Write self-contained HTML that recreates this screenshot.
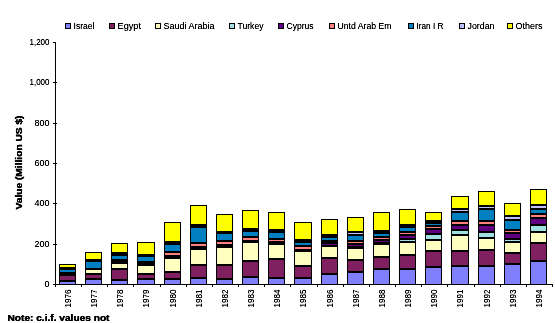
<!DOCTYPE html>
<html><head><meta charset="utf-8"><style>
html,body{margin:0;padding:0;background:#fff;width:555px;height:323px;overflow:hidden}
svg{display:block}
.t{font-family:"Liberation Sans",sans-serif;font-size:8.5px;fill:#000}
.b{font-family:"Liberation Sans",sans-serif;font-size:9px;font-weight:bold;fill:#000;stroke:#000;stroke-width:0.2px}
</style></head><body>
<svg width="555" height="323" viewBox="0 0 555 323">
<defs><filter id="crisp" filterUnits="userSpaceOnUse" x="0" y="0" width="555" height="323"><feComponentTransfer><feFuncA type="linear" slope="1.35" intercept="0"/></feComponentTransfer></filter></defs>
<rect x="0" y="0" width="555" height="323" fill="#fff"/>
<g shape-rendering="crispEdges">
<rect x="59" y="264" width="17" height="21" fill="#000000"/>
<rect x="60" y="265" width="15" height="2" fill="#FFFF00"/>
<rect x="60" y="270" width="15" height="2" fill="#0080C0"/>
<rect x="60" y="276" width="15" height="4" fill="#802060"/>
<rect x="60" y="282" width="15" height="2" fill="#8080FF"/>
<rect x="85" y="252" width="17" height="33" fill="#000000"/>
<rect x="86" y="253" width="15" height="6" fill="#FFFF00"/>
<rect x="86" y="262" width="15" height="6" fill="#0080C0"/>
<rect x="86" y="270" width="15" height="3" fill="#FFFFC0"/>
<rect x="86" y="275" width="15" height="3" fill="#802060"/>
<rect x="86" y="280" width="15" height="4" fill="#8080FF"/>
<rect x="111" y="243" width="17" height="42" fill="#000000"/>
<rect x="112" y="244" width="15" height="8" fill="#FFFF00"/>
<rect x="112" y="256" width="15" height="3" fill="#0080C0"/>
<rect x="112" y="264" width="15" height="4" fill="#FFFFC0"/>
<rect x="112" y="270" width="15" height="9" fill="#802060"/>
<rect x="112" y="281" width="15" height="3" fill="#8080FF"/>
<rect x="137" y="242" width="18" height="43" fill="#000000"/>
<rect x="138" y="243" width="16" height="11" fill="#FFFF00"/>
<rect x="138" y="257" width="16" height="4" fill="#0080C0"/>
<rect x="138" y="266" width="16" height="7" fill="#FFFFC0"/>
<rect x="138" y="275" width="16" height="3" fill="#802060"/>
<rect x="138" y="280" width="16" height="4" fill="#8080FF"/>
<rect x="164" y="222" width="17" height="63" fill="#000000"/>
<rect x="165" y="223" width="15" height="18" fill="#FFFF00"/>
<rect x="165" y="245" width="15" height="6" fill="#0080C0"/>
<rect x="165" y="253" width="15" height="2" fill="#FF8080"/>
<rect x="165" y="259" width="15" height="12" fill="#FFFFC0"/>
<rect x="165" y="273" width="15" height="5" fill="#802060"/>
<rect x="165" y="280" width="15" height="4" fill="#8080FF"/>
<rect x="190" y="205" width="17" height="80" fill="#000000"/>
<rect x="191" y="206" width="15" height="18" fill="#FFFF00"/>
<rect x="191" y="228" width="15" height="14" fill="#0080C0"/>
<rect x="191" y="244" width="15" height="2" fill="#FF8080"/>
<rect x="191" y="250" width="15" height="14" fill="#FFFFC0"/>
<rect x="191" y="266" width="15" height="11" fill="#802060"/>
<rect x="191" y="279" width="15" height="5" fill="#8080FF"/>
<rect x="216" y="214" width="17" height="71" fill="#000000"/>
<rect x="217" y="215" width="15" height="16" fill="#FFFF00"/>
<rect x="217" y="234" width="15" height="6" fill="#0080C0"/>
<rect x="217" y="242" width="15" height="2" fill="#FF8080"/>
<rect x="217" y="248" width="15" height="16" fill="#FFFFC0"/>
<rect x="217" y="266" width="15" height="12" fill="#802060"/>
<rect x="217" y="280" width="15" height="4" fill="#8080FF"/>
<rect x="242" y="210" width="17" height="75" fill="#000000"/>
<rect x="243" y="211" width="15" height="17" fill="#FFFF00"/>
<rect x="243" y="232" width="15" height="4" fill="#0080C0"/>
<rect x="243" y="238" width="15" height="2" fill="#FF8080"/>
<rect x="243" y="243" width="15" height="17" fill="#FFFFC0"/>
<rect x="243" y="262" width="15" height="14" fill="#802060"/>
<rect x="243" y="278" width="15" height="6" fill="#8080FF"/>
<rect x="268" y="212" width="17" height="73" fill="#000000"/>
<rect x="269" y="213" width="15" height="16" fill="#FFFF00"/>
<rect x="269" y="233" width="15" height="5" fill="#0080C0"/>
<rect x="269" y="240" width="15" height="1" fill="#FF8080"/>
<rect x="269" y="245" width="15" height="13" fill="#FFFFC0"/>
<rect x="269" y="260" width="15" height="17" fill="#802060"/>
<rect x="269" y="279" width="15" height="5" fill="#8080FF"/>
<rect x="294" y="222" width="18" height="63" fill="#000000"/>
<rect x="295" y="223" width="16" height="16" fill="#FFFF00"/>
<rect x="295" y="243" width="16" height="2" fill="#0080C0"/>
<rect x="295" y="247" width="16" height="2" fill="#FF8080"/>
<rect x="295" y="252" width="16" height="13" fill="#FFFFC0"/>
<rect x="295" y="267" width="16" height="10" fill="#802060"/>
<rect x="295" y="279" width="16" height="5" fill="#8080FF"/>
<rect x="321" y="219" width="17" height="66" fill="#000000"/>
<rect x="322" y="220" width="15" height="14" fill="#FFFF00"/>
<rect x="322" y="238" width="15" height="2" fill="#0080C0"/>
<rect x="322" y="244" width="15" height="1" fill="#600080"/>
<rect x="322" y="247" width="15" height="10" fill="#FFFFC0"/>
<rect x="322" y="259" width="15" height="14" fill="#802060"/>
<rect x="322" y="275" width="15" height="9" fill="#8080FF"/>
<rect x="347" y="217" width="17" height="68" fill="#000000"/>
<rect x="348" y="218" width="15" height="13" fill="#FFFF00"/>
<rect x="348" y="233" width="15" height="1" fill="#C0C0FF"/>
<rect x="348" y="236" width="15" height="4" fill="#0080C0"/>
<rect x="348" y="242" width="15" height="1" fill="#FF8080"/>
<rect x="348" y="245" width="15" height="1" fill="#600080"/>
<rect x="348" y="249" width="15" height="10" fill="#FFFFC0"/>
<rect x="348" y="261" width="15" height="10" fill="#802060"/>
<rect x="348" y="273" width="15" height="11" fill="#8080FF"/>
<rect x="373" y="212" width="17" height="73" fill="#000000"/>
<rect x="374" y="213" width="15" height="17" fill="#FFFF00"/>
<rect x="374" y="234" width="15" height="2" fill="#0080C0"/>
<rect x="374" y="238" width="15" height="1" fill="#FF8080"/>
<rect x="374" y="241" width="15" height="1" fill="#600080"/>
<rect x="374" y="245" width="15" height="11" fill="#FFFFC0"/>
<rect x="374" y="258" width="15" height="10" fill="#802060"/>
<rect x="374" y="270" width="15" height="14" fill="#8080FF"/>
<rect x="399" y="209" width="17" height="76" fill="#000000"/>
<rect x="400" y="210" width="15" height="14" fill="#FFFF00"/>
<rect x="400" y="228" width="15" height="3" fill="#0080C0"/>
<rect x="400" y="233" width="15" height="1" fill="#FF8080"/>
<rect x="400" y="236" width="15" height="2" fill="#600080"/>
<rect x="400" y="240" width="15" height="1" fill="#A0E0E0"/>
<rect x="400" y="243" width="15" height="11" fill="#FFFFC0"/>
<rect x="400" y="256" width="15" height="12" fill="#802060"/>
<rect x="400" y="270" width="15" height="14" fill="#8080FF"/>
<rect x="425" y="212" width="17" height="73" fill="#000000"/>
<rect x="426" y="213" width="15" height="7" fill="#FFFF00"/>
<rect x="426" y="224" width="15" height="1" fill="#0080C0"/>
<rect x="426" y="227" width="15" height="1" fill="#FF8080"/>
<rect x="426" y="230" width="15" height="3" fill="#600080"/>
<rect x="426" y="235" width="15" height="4" fill="#A0E0E0"/>
<rect x="426" y="241" width="15" height="9" fill="#FFFFC0"/>
<rect x="426" y="252" width="15" height="14" fill="#802060"/>
<rect x="426" y="268" width="15" height="16" fill="#8080FF"/>
<rect x="451" y="196" width="18" height="89" fill="#000000"/>
<rect x="452" y="197" width="16" height="11" fill="#FFFF00"/>
<rect x="452" y="210" width="16" height="1" fill="#C0C0FF"/>
<rect x="452" y="213" width="16" height="7" fill="#0080C0"/>
<rect x="452" y="222" width="16" height="2" fill="#FF8080"/>
<rect x="452" y="226" width="16" height="3" fill="#600080"/>
<rect x="452" y="231" width="16" height="3" fill="#A0E0E0"/>
<rect x="452" y="236" width="16" height="14" fill="#FFFFC0"/>
<rect x="452" y="252" width="16" height="13" fill="#802060"/>
<rect x="452" y="267" width="16" height="17" fill="#8080FF"/>
<rect x="478" y="191" width="17" height="94" fill="#000000"/>
<rect x="479" y="192" width="15" height="13" fill="#FFFF00"/>
<rect x="479" y="207" width="15" height="1" fill="#C0C0FF"/>
<rect x="479" y="210" width="15" height="10" fill="#0080C0"/>
<rect x="479" y="222" width="15" height="2" fill="#FF8080"/>
<rect x="479" y="226" width="15" height="5" fill="#600080"/>
<rect x="479" y="233" width="15" height="4" fill="#A0E0E0"/>
<rect x="479" y="239" width="15" height="10" fill="#FFFFC0"/>
<rect x="479" y="251" width="15" height="14" fill="#802060"/>
<rect x="479" y="267" width="15" height="17" fill="#8080FF"/>
<rect x="504" y="203" width="17" height="82" fill="#000000"/>
<rect x="505" y="204" width="15" height="11" fill="#FFFF00"/>
<rect x="505" y="217" width="15" height="2" fill="#C0C0FF"/>
<rect x="505" y="221" width="15" height="8" fill="#0080C0"/>
<rect x="505" y="231" width="15" height="1" fill="#FF8080"/>
<rect x="505" y="234" width="15" height="4" fill="#600080"/>
<rect x="505" y="240" width="15" height="1" fill="#A0E0E0"/>
<rect x="505" y="243" width="15" height="9" fill="#FFFFC0"/>
<rect x="505" y="254" width="15" height="9" fill="#802060"/>
<rect x="505" y="265" width="15" height="19" fill="#8080FF"/>
<rect x="530" y="189" width="17" height="96" fill="#000000"/>
<rect x="531" y="190" width="15" height="14" fill="#FFFF00"/>
<rect x="531" y="206" width="15" height="2" fill="#C0C0FF"/>
<rect x="531" y="210" width="15" height="3" fill="#0080C0"/>
<rect x="531" y="215" width="15" height="2" fill="#FF8080"/>
<rect x="531" y="219" width="15" height="5" fill="#600080"/>
<rect x="531" y="226" width="15" height="5" fill="#A0E0E0"/>
<rect x="531" y="233" width="15" height="9" fill="#FFFFC0"/>
<rect x="531" y="244" width="15" height="16" fill="#802060"/>
<rect x="531" y="262" width="15" height="22" fill="#8080FF"/>
<rect x="55" y="42" width="1" height="243" fill="#000000"/>
<rect x="53" y="42" width="3" height="1" fill="#000000"/>
<rect x="53" y="82" width="4" height="1" fill="#000000"/>
<rect x="53" y="123" width="4" height="1" fill="#000000"/>
<rect x="53" y="163" width="4" height="1" fill="#000000"/>
<rect x="53" y="203" width="4" height="1" fill="#000000"/>
<rect x="53" y="244" width="4" height="1" fill="#000000"/>
<rect x="53" y="284" width="500" height="1" fill="#000000"/>
<rect x="55" y="285" width="1" height="2" fill="#000000"/>
<rect x="81" y="285" width="1" height="2" fill="#000000"/>
<rect x="107" y="285" width="1" height="2" fill="#000000"/>
<rect x="133" y="285" width="1" height="2" fill="#000000"/>
<rect x="160" y="285" width="1" height="2" fill="#000000"/>
<rect x="186" y="285" width="1" height="2" fill="#000000"/>
<rect x="212" y="285" width="1" height="2" fill="#000000"/>
<rect x="238" y="285" width="1" height="2" fill="#000000"/>
<rect x="264" y="285" width="1" height="2" fill="#000000"/>
<rect x="290" y="285" width="1" height="2" fill="#000000"/>
<rect x="317" y="285" width="1" height="2" fill="#000000"/>
<rect x="343" y="285" width="1" height="2" fill="#000000"/>
<rect x="369" y="285" width="1" height="2" fill="#000000"/>
<rect x="395" y="285" width="1" height="2" fill="#000000"/>
<rect x="421" y="285" width="1" height="2" fill="#000000"/>
<rect x="447" y="285" width="1" height="2" fill="#000000"/>
<rect x="474" y="285" width="1" height="2" fill="#000000"/>
<rect x="500" y="285" width="1" height="2" fill="#000000"/>
<rect x="526" y="285" width="1" height="2" fill="#000000"/>
<rect x="552" y="285" width="1" height="2" fill="#000000"/>
<rect x="65" y="23" width="6" height="6" fill="#000000"/>
<rect x="66" y="24" width="4" height="4" fill="#8080FF"/>
<rect x="109" y="23" width="6" height="6" fill="#000000"/>
<rect x="110" y="24" width="4" height="4" fill="#802060"/>
<rect x="155" y="23" width="6" height="6" fill="#000000"/>
<rect x="156" y="24" width="4" height="4" fill="#FFFFC0"/>
<rect x="229" y="23" width="6" height="6" fill="#000000"/>
<rect x="230" y="24" width="4" height="4" fill="#A0E0E0"/>
<rect x="278" y="23" width="6" height="6" fill="#000000"/>
<rect x="279" y="24" width="4" height="4" fill="#600080"/>
<rect x="329" y="23" width="6" height="6" fill="#000000"/>
<rect x="330" y="24" width="4" height="4" fill="#FF8080"/>
<rect x="408" y="23" width="6" height="6" fill="#000000"/>
<rect x="409" y="24" width="4" height="4" fill="#0080C0"/>
<rect x="459" y="23" width="6" height="6" fill="#000000"/>
<rect x="460" y="24" width="4" height="4" fill="#C0C0FF"/>
<rect x="507" y="23" width="6" height="6" fill="#000000"/>
<rect x="508" y="24" width="4" height="4" fill="#FFFF00"/>
</g>
<g filter="url(#crisp)">
<text x="73.50" y="29" textLength="21.00" lengthAdjust="spacingAndGlyphs" class="t" style="font-size:8.5px">Israel</text>
<text x="117.50" y="29" textLength="23.50" lengthAdjust="spacingAndGlyphs" class="t" style="font-size:8.5px">Egypt</text>
<text x="163.50" y="29" textLength="51.00" lengthAdjust="spacingAndGlyphs" class="t" style="font-size:8.5px">Saudi Arabia</text>
<text x="237.50" y="29" textLength="26.00" lengthAdjust="spacingAndGlyphs" class="t" style="font-size:8.5px">Turkey</text>
<text x="286.50" y="29" textLength="27.00" lengthAdjust="spacingAndGlyphs" class="t" style="font-size:8.5px">Cyprus</text>
<text x="337.50" y="29" textLength="54.00" lengthAdjust="spacingAndGlyphs" class="t" style="font-size:8.5px">Untd Arab Em</text>
<text x="416.50" y="29" textLength="27.00" lengthAdjust="spacingAndGlyphs" class="t" style="font-size:8.5px">Iran I R</text>
<text x="467.50" y="29" textLength="27.00" lengthAdjust="spacingAndGlyphs" class="t" style="font-size:8.5px">Jordan</text>
<text x="515.50" y="29" textLength="27.00" lengthAdjust="spacingAndGlyphs" class="t" style="font-size:8.5px">Others</text>
<text x="29.50" y="45" textLength="20.00" lengthAdjust="spacingAndGlyphs" class="t" style="font-size:8.5px">1,200</text>
<text x="29.50" y="85" textLength="20.00" lengthAdjust="spacingAndGlyphs" class="t" style="font-size:8.5px">1,000</text>
<text x="34.50" y="126" textLength="15.00" lengthAdjust="spacingAndGlyphs" class="t" style="font-size:8.5px">800</text>
<text x="34.50" y="166" textLength="15.00" lengthAdjust="spacingAndGlyphs" class="t" style="font-size:8.5px">600</text>
<text x="34.50" y="206" textLength="15.00" lengthAdjust="spacingAndGlyphs" class="t" style="font-size:8.5px">400</text>
<text x="34.50" y="247" textLength="15.00" lengthAdjust="spacingAndGlyphs" class="t" style="font-size:8.5px">200</text>
<text x="44.50" y="287" textLength="5.00" lengthAdjust="spacingAndGlyphs" class="t" style="font-size:8.5px">0</text>
<text transform="translate(71,307.50) rotate(-90)" x="0" y="0" textLength="18.00" lengthAdjust="spacingAndGlyphs" class="t" style="font-size:8.5px">1976</text>
<text transform="translate(97,307.50) rotate(-90)" x="0" y="0" textLength="18.00" lengthAdjust="spacingAndGlyphs" class="t" style="font-size:8.5px">1977</text>
<text transform="translate(123,307.50) rotate(-90)" x="0" y="0" textLength="18.00" lengthAdjust="spacingAndGlyphs" class="t" style="font-size:8.5px">1978</text>
<text transform="translate(149,307.50) rotate(-90)" x="0" y="0" textLength="18.00" lengthAdjust="spacingAndGlyphs" class="t" style="font-size:8.5px">1979</text>
<text transform="translate(176,307.50) rotate(-90)" x="0" y="0" textLength="18.00" lengthAdjust="spacingAndGlyphs" class="t" style="font-size:8.5px">1980</text>
<text transform="translate(202,307.50) rotate(-90)" x="0" y="0" textLength="18.00" lengthAdjust="spacingAndGlyphs" class="t" style="font-size:8.5px">1981</text>
<text transform="translate(228,307.50) rotate(-90)" x="0" y="0" textLength="18.00" lengthAdjust="spacingAndGlyphs" class="t" style="font-size:8.5px">1982</text>
<text transform="translate(254,307.50) rotate(-90)" x="0" y="0" textLength="18.00" lengthAdjust="spacingAndGlyphs" class="t" style="font-size:8.5px">1983</text>
<text transform="translate(280,307.50) rotate(-90)" x="0" y="0" textLength="18.00" lengthAdjust="spacingAndGlyphs" class="t" style="font-size:8.5px">1984</text>
<text transform="translate(306,307.50) rotate(-90)" x="0" y="0" textLength="18.00" lengthAdjust="spacingAndGlyphs" class="t" style="font-size:8.5px">1985</text>
<text transform="translate(333,307.50) rotate(-90)" x="0" y="0" textLength="18.00" lengthAdjust="spacingAndGlyphs" class="t" style="font-size:8.5px">1986</text>
<text transform="translate(359,307.50) rotate(-90)" x="0" y="0" textLength="18.00" lengthAdjust="spacingAndGlyphs" class="t" style="font-size:8.5px">1987</text>
<text transform="translate(385,307.50) rotate(-90)" x="0" y="0" textLength="18.00" lengthAdjust="spacingAndGlyphs" class="t" style="font-size:8.5px">1988</text>
<text transform="translate(411,307.50) rotate(-90)" x="0" y="0" textLength="18.00" lengthAdjust="spacingAndGlyphs" class="t" style="font-size:8.5px">1989</text>
<text transform="translate(437,307.50) rotate(-90)" x="0" y="0" textLength="18.00" lengthAdjust="spacingAndGlyphs" class="t" style="font-size:8.5px">1990</text>
<text transform="translate(463,307.50) rotate(-90)" x="0" y="0" textLength="18.00" lengthAdjust="spacingAndGlyphs" class="t" style="font-size:8.5px">1991</text>
<text transform="translate(490,307.50) rotate(-90)" x="0" y="0" textLength="18.00" lengthAdjust="spacingAndGlyphs" class="t" style="font-size:8.5px">1992</text>
<text transform="translate(516,307.50) rotate(-90)" x="0" y="0" textLength="18.00" lengthAdjust="spacingAndGlyphs" class="t" style="font-size:8.5px">1993</text>
<text transform="translate(542,307.50) rotate(-90)" x="0" y="0" textLength="18.00" lengthAdjust="spacingAndGlyphs" class="t" style="font-size:8.5px">1994</text>
<text transform="translate(22,209.50) rotate(-90)" x="0" y="0" textLength="94.00" lengthAdjust="spacingAndGlyphs" class="b" style="font-size:8.2px">Value (Million US $)</text>
<text x="7.50" y="321" textLength="102.00" lengthAdjust="spacingAndGlyphs" class="b" style="font-size:8.2px">Note: c.i.f. values not</text>
</g>
</svg>
</body></html>
